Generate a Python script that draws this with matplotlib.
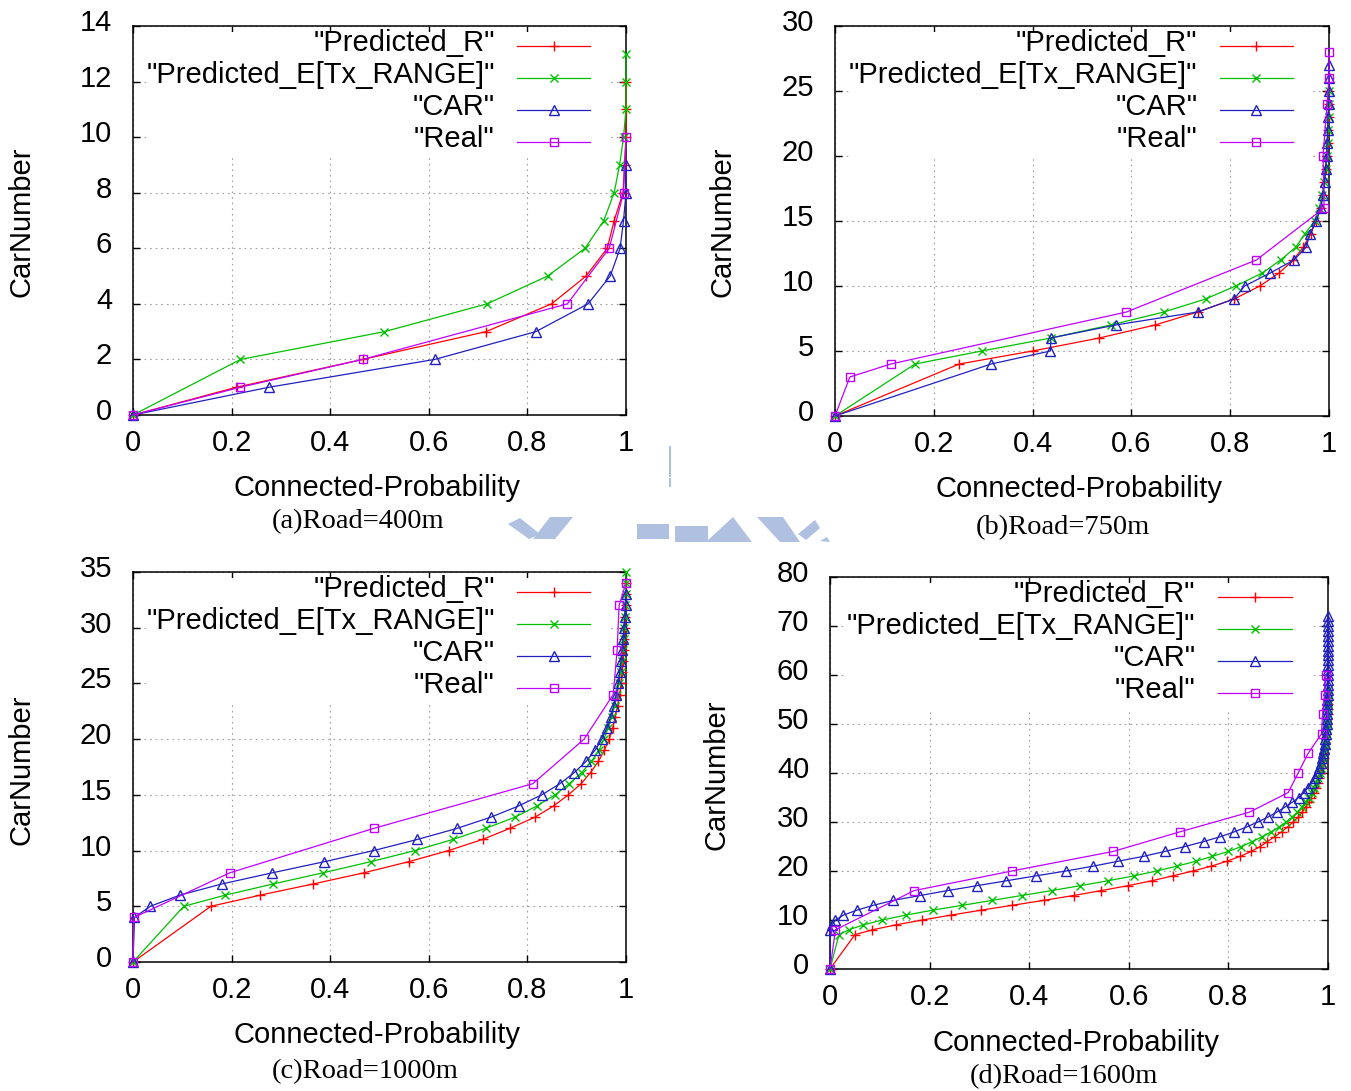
import matplotlib
matplotlib.use("Agg")
import matplotlib.pyplot as plt
from matplotlib.patches import Polygon, Rectangle
from matplotlib.lines import Line2D
from matplotlib.transforms import ScaledTranslation

W, H = 1351, 1091

# ---------------- data ----------------
series_names = ['"Predicted_R"', '"Predicted_E[Tx_RANGE]"', '"CAR"', '"Real"']
captions = ["(a)Road=400m", "(b)Road=750m", "(c)Road=1000m", "(d)Road=1600m"]
y_max = [14, 30, 35, 80]
y_step = [2, 5, 5, 10]
x_ticks = [0, 0.2, 0.4, 0.6, 0.8, 1]
x_tick_labels = ["0", "0.2", "0.4", "0.6", "0.8", "1"]

# (a) Road = 400m
a_R_x = [0, 0.21, 0.466, 0.716, 0.849, 0.919, 0.962, 0.976, 0.994, 0.997, 1.0, 1.0, 1.0]
a_R_y = [0, 1, 2, 3, 4, 5, 6, 7, 8, 9, 10, 11, 12]
a_E_x = [0, 0.218, 0.51, 0.718, 0.841, 0.917, 0.955, 0.976, 0.987, 0.995, 1.0, 1.0, 1.0]
a_E_y = [0, 2, 3, 4, 5, 6, 7, 8, 9, 10, 11, 12, 13]
a_C_x = [0, 0.276, 0.612, 0.817, 0.923, 0.968, 0.988, 0.995, 1.0, 1.0]
a_C_y = [0, 1, 2, 3, 4, 5, 6, 7, 8, 9]
a_Real_x = [0, 0.218, 0.466, 0.881, 0.966, 0.995, 1.0]
a_Real_y = [0, 1, 2, 4, 6, 8, 10]

# (b) Road = 750m
b_R_x = [0, 0.2515, 0.40, 0.535, 0.648, 0.734, 0.808, 0.86, 0.899, 0.928, 0.948, 0.963,
         0.974, 0.983, 0.987, 0.990, 0.993, 0.995, 0.997, 0.998, 0.999, 1.0, 1.0]
b_R_y = [0, 4, 5, 6, 7, 8, 9, 10, 11, 12, 13, 14, 15, 16, 17, 18, 19, 20, 21, 22, 23, 24, 25]
b_E_x = [0, 0.162, 0.297, 0.437, 0.558, 0.666, 0.75, 0.811, 0.865, 0.902, 0.933, 0.951,
         0.971, 0.98, 0.986, 0.99, 0.993, 0.995, 0.997, 0.998, 0.999, 1.0, 1.0]
b_E_y = [0, 4, 5, 6, 7, 8, 9, 10, 11, 12, 13, 14, 15, 16, 17, 18, 19, 20, 21, 22, 23, 24, 25]
b_C_x = [0, 0.316, 0.436, 0.437, 0.568, 0.734, 0.808, 0.829, 0.881, 0.929, 0.954, 0.961,
         0.974, 0.983, 0.988, 0.991, 0.993, 0.995, 0.996, 0.997, 0.998, 0.999, 1.0, 1.0, 1.0]
b_C_y = [0, 4, 5, 6, 7, 8, 9, 10, 11, 12, 13, 14, 15, 16, 17, 18, 19, 20, 21, 22, 23, 24,
         25, 26, 27]
b_Real_x = [0, 0.030, 0.113, 0.59, 0.853, 0.99, 0.988, 0.996, 1.0, 1.0]
b_Real_y = [0, 3, 4, 8, 12, 16, 20, 24, 26, 28]

# (c) Road = 1000m
c_R_x = [0, 0.158, 0.258, 0.365, 0.468, 0.559, 0.64, 0.709, 0.765, 0.8155, 0.853, 0.883,
         0.909, 0.928, 0.944, 0.956, 0.966, 0.973, 0.978, 0.983, 0.987, 0.99, 0.992, 0.994,
         0.995, 0.996, 0.997, 0.998, 0.999, 1.0, 1.0]
c_R_y = [0, 5, 6, 7, 8, 9, 10, 11, 12, 13, 14, 15, 16, 17, 18, 19, 20, 21, 22, 23, 24, 25,
         26, 27, 28, 29, 30, 31, 32, 33, 34]
c_E_x = [0, 0.103, 0.187, 0.284, 0.385, 0.482, 0.572, 0.649, 0.716, 0.775, 0.819, 0.856,
         0.885, 0.91, 0.93, 0.945, 0.955, 0.964, 0.971, 0.977, 0.982, 0.986, 0.989, 0.991,
         0.993, 0.995, 0.996, 0.997, 0.998, 0.999, 1.0, 1.0]
c_E_y = [0, 5, 6, 7, 8, 9, 10, 11, 12, 13, 14, 15, 16, 17, 18, 19, 20, 21, 22, 23, 24, 25,
         26, 27, 28, 29, 30, 31, 32, 33, 34, 35]
c_C_x = [0, 0.003, 0.035, 0.095, 0.18, 0.282, 0.388, 0.488, 0.577, 0.658, 0.726, 0.782,
         0.829, 0.866, 0.895, 0.919, 0.937, 0.951, 0.961, 0.969, 0.975, 0.98, 0.984, 0.987,
         0.99, 0.992, 0.994, 0.996, 0.998, 0.999, 1.0]
c_C_y = [0, 4, 5, 6, 7, 8, 9, 10, 11, 12, 13, 14, 15, 16, 17, 18, 19, 20, 21, 22, 23, 24,
         25, 26, 27, 28, 29, 30, 31, 32, 33]
c_Real_x = [0, 0.002, 0.196, 0.489, 0.811, 0.915, 0.974, 0.982, 0.986, 1.0]
c_Real_y = [0, 4, 8, 12, 16, 20, 24, 28, 32, 34]

# (d) Road = 1600m
d_R_x = [0, 0.05, 0.085, 0.132, 0.1855, 0.243, 0.303, 0.366, 0.429, 0.489, 0.5445, 0.598,
         0.646, 0.688, 0.729, 0.766, 0.797, 0.824, 0.846, 0.864, 0.878, 0.893, 0.907, 0.919,
         0.93, 0.94, 0.948, 0.955, 0.961, 0.966, 0.971, 0.975, 0.979, 0.982, 0.985, 0.987,
         0.989, 0.991, 0.992, 0.993, 0.994, 0.995, 0.996, 0.997, 0.998, 0.998, 0.999, 0.999,
         1.0, 1.0]
d_R_y = [0, 7, 8, 9, 10, 11, 12, 13, 14, 15, 16, 17, 18, 19, 20, 21, 22, 23, 24, 25, 26, 27,
         28, 29, 30, 31, 32, 33, 34, 35, 36, 37, 38, 39, 40, 41, 42, 43, 44, 45, 46, 47, 48,
         49, 50, 51, 52, 53, 54, 55]
d_E_x = [0, 0.018, 0.038, 0.067, 0.105, 0.152, 0.206, 0.266, 0.325, 0.385, 0.445, 0.502,
         0.558, 0.61, 0.656, 0.697, 0.735, 0.768, 0.8, 0.826, 0.848, 0.868, 0.886, 0.902,
         0.916, 0.928, 0.938, 0.947, 0.955, 0.961, 0.967, 0.972, 0.976, 0.98, 0.983, 0.986,
         0.988, 0.99, 0.992, 0.993, 0.994, 0.995, 0.996, 0.997, 0.998, 0.998, 0.999, 0.999,
         1.0, 1.0, 1.0, 1.0]
d_E_y = [0, 7, 8, 9, 10, 11, 12, 13, 14, 15, 16, 17, 18, 19, 20, 21, 22, 23, 24, 25, 26, 27,
         28, 29, 30, 31, 32, 33, 34, 35, 36, 37, 38, 39, 40, 41, 42, 43, 44, 45, 46, 47, 48,
         49, 50, 51, 52, 53, 54, 55, 56, 57]
d_C_x = [0, 0.0, 0.004, 0.011, 0.027, 0.054, 0.087, 0.127, 0.181, 0.236, 0.295, 0.354,
         0.413, 0.474, 0.529, 0.579, 0.63, 0.673, 0.713, 0.75, 0.784, 0.812, 0.837, 0.859,
         0.879, 0.897, 0.913, 0.928, 0.941, 0.951, 0.96, 0.967, 0.973, 0.978, 0.982, 0.985,
         0.988, 0.99, 0.992, 0.993, 0.994, 0.995, 0.996, 0.997, 0.998, 0.998, 0.998, 0.998,
         0.998, 0.999, 0.999, 0.999, 0.999, 0.999, 1.0, 1.0, 1.0, 1.0, 1.0, 1.0, 1.0, 1.0,
         1.0, 1.0, 1.0, 1.0]
d_C_y = [0, 8, 9, 10, 11, 12, 13, 14, 15, 16, 17, 18, 19, 20, 21, 22, 23, 24, 25, 26, 27,
         28, 29, 30, 31, 32, 33, 34, 35, 36, 37, 38, 39, 40, 41, 42, 43, 44, 45, 46, 47, 48,
         49, 50, 51, 52, 53, 54, 55, 56, 57, 58, 59, 60, 61, 62, 63, 64, 65, 66, 67, 68, 69,
         70, 71, 72]
d_Real_x = [0, 0.011, 0.169, 0.365, 0.569, 0.703, 0.842, 0.92, 0.94, 0.96, 0.987, 0.989,
            0.993, 0.995]
d_Real_y = [0, 8, 16, 20, 24, 28, 32, 36, 40, 44, 48, 52, 56, 60]

panels = [
    [(a_R_x, a_R_y), (a_E_x, a_E_y), (a_C_x, a_C_y), (a_Real_x, a_Real_y)],
    [(b_R_x, b_R_y), (b_E_x, b_E_y), (b_C_x, b_C_y), (b_Real_x, b_Real_y)],
    [(c_R_x, c_R_y), (c_E_x, c_E_y), (c_C_x, c_C_y), (c_Real_x, c_Real_y)],
    [(d_R_x, d_R_y), (d_E_x, d_E_y), (d_C_x, d_C_y), (d_Real_x, d_Real_y)],
]

# ---------------- style ----------------
colors = ["#ff0000", "#00c000", "#2020c0", "#c000ff"]
markers = ["+", "x", "^", "s"]
msizes = [7, 6, 6.5, 6]
filled = [True, True, False, False]

SANS = "Liberation Sans"
SERIF = "Liberation Serif"
FS = 21

# axes rectangles in pixels: left, top, right, bottom
boxes = [(133, 26, 626, 415), (835, 26, 1329, 416), (133, 572, 626, 962), (830, 577, 1328, 969)]
ylabel_pos = [(22, 222), (722, 222), (22, 770), (717, 775)]
xlabel_pos = [(377, 488), (1079, 489), (377, 1035), (1076, 1043)]
caption_pos = [(358, 522), (1063, 528), (365, 1072), (1064, 1077)]

fig = plt.figure(figsize=(W / 100, H / 100), dpi=100)


def fx(x):
    return x / W


def fy(y):
    return 1 - y / H


# watermark fragments (light blue, behind)
wm_color = "#b0c0e0"
wm_polys = [
    [(508, 524), (520, 518), (540, 534), (529, 539)],
    [(533, 539), (550, 517), (573, 517), (555, 539)],
    [(637, 524), (669, 524), (669, 539), (637, 539)],
    [(675, 526), (708, 526), (708, 542), (675, 542)],
    [(706, 542), (733, 517), (752, 542)],
    [(757, 517), (783, 517), (800, 542), (780, 542)],
    [(798, 534), (815, 520), (820, 528), (806, 540)],
    [(820, 541), (827, 537), (830, 542)],
]
for poly in wm_polys:
    fig.patches.append(Polygon([(fx(x), fy(y)) for x, y in poly], closed=True,
                               transform=fig.transFigure, facecolor=wm_color,
                               edgecolor="none", zorder=0))
fig.lines.append(Line2D([fx(670), fx(670)], [fy(447), fy(476)], transform=fig.transFigure,
                        color=wm_color, lw=1.5))
fig.lines.append(Line2D([fx(670), fx(670)], [fy(479), fy(486)], transform=fig.transFigure,
                        color=wm_color, lw=1.5))

ylab_shift = ScaledTranslation(0, 6 / 100, fig.dpi_scale_trans)

for k in range(4):
    l, t, r, b = boxes[k]
    ax = fig.add_axes([fx(l), fy(b), (r - l) / W, (b - t) / H])
    hpx = b - t
    ax.set_xlim(0, 1)
    ax.set_ylim(0, y_max[k])
    ax.set_xticks(x_ticks)
    ax.set_xticklabels(x_tick_labels)
    yt = list(range(0, y_max[k] + 1, y_step[k]))
    ax.set_yticks(yt)
    ax.set_yticklabels([str(v) for v in yt])
    ax.tick_params(direction="in", length=5, width=1, top=True, right=True,
                   labelsize=FS)
    ax.tick_params(axis="x", pad=10)
    ax.tick_params(axis="y", pad=15)
    for lab in ax.get_xticklabels() + ax.get_yticklabels():
        lab.set_fontfamily(SANS)
    for lab in ax.get_yticklabels():
        lab.set_transform(lab.get_transform() + ylab_shift)
    ax.set_axisbelow(True)
    ax.grid(True, color="#a0a0a0", lw=0.8, linestyle=(0, (1.5, 3.5)))
    for sp in ax.spines.values():
        sp.set_linewidth(1.1)
        sp.set_color("black")

    # key background box (hides grid behind key)
    ax.add_patch(Rectangle((0.03, 1 - 132 / hpx), 0.935, 132 / hpx - 6 / hpx,
                           transform=ax.transAxes, facecolor="white",
                           edgecolor="none", zorder=1))

    for i, (xs, ys) in enumerate(panels[k]):
        kw = dict(color=colors[i], lw=0.9, marker=markers[i], markersize=msizes[i],
                  markeredgewidth=1.0, zorder=3, clip_on=False)
        if not filled[i]:
            kw["markerfacecolor"] = "none"
        ax.plot(xs, ys, **kw)
        # key entry
        yk = 1 - (20 + 32 * i) / hpx
        ax.plot([0.779, 0.927], [yk, yk], transform=ax.transAxes, color=colors[i],
                lw=0.9, zorder=4, clip_on=False)
        ax.plot([0.853], [yk], transform=ax.transAxes, color=colors[i],
                marker=markers[i], markersize=msizes[i], markeredgewidth=1.0,
                markerfacecolor=("none" if not filled[i] else colors[i]), zorder=4,
                clip_on=False)
        ax.text(0.734, yk - 5 / hpx, series_names[i], transform=ax.transAxes,
                ha="right", va="baseline", fontsize=FS, family=SANS, zorder=5)

    fig.text(fx(ylabel_pos[k][0]), fy(ylabel_pos[k][1]), "CarNumber", rotation=90,
             ha="center", va="center", fontsize=FS, family=SANS)
    fig.text(fx(xlabel_pos[k][0]), fy(xlabel_pos[k][1]), "Connected-Probability",
             ha="center", va="center", fontsize=FS, family=SANS)
    fig.text(fx(caption_pos[k][0]), fy(caption_pos[k][1]), captions[k],
             ha="center", va="center", fontsize=20.5, family=SERIF)

fig.savefig("out.png", dpi=100, facecolor="white")
